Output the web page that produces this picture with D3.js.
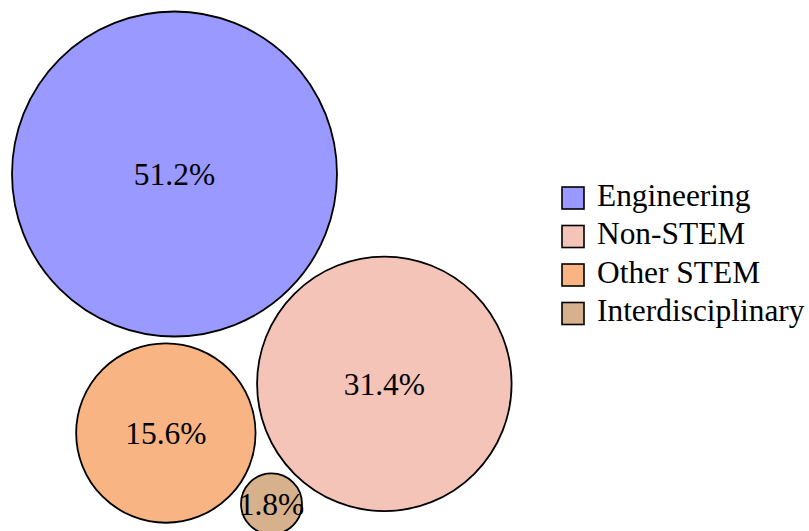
<!DOCTYPE html>
<html>
<head>
<meta charset="utf-8">
<script src="https://cdn.jsdelivr.net/npm/d3@7"></script>
<style>
  body { margin: 0; background: #ffffff; }
  svg { display: block; }
</style>
</head>
<body>
<svg id="chart" width="809" height="531"></svg>
<script>
// data
const categories = ["Engineering", "Non-STEM", "Other STEM", "Interdisciplinary"];
const shares = [51.2, 31.4, 15.6, 1.8];
const colors = ["#9999ff", "#f4c4b9", "#f8b482", "#d7b18b"];
// order in which the circles are fed to the packer
const packOrder = [1, 2, 0, 3];

const svg = d3.select("#chart");
const fontFamily = "'Liberation Serif', 'Times New Roman', serif";

// area proportional to share
const r = d3.scaleSqrt().domain([0, d3.max(shares)]).range([0, 162.5]);
const pad = 3.5;

// pack circles as siblings (radius + padding)
const nodes = packOrder.map(i => ({ i: i, r: r(shares[i]) + pad }));
d3.packSiblings(nodes);

const byIdx = {};
nodes.forEach(n => byIdx[n.i] = n);
const eng = byIdx[0], ns = byIdx[1], os = byIdx[2];

// mirror so "Other STEM" sits below-left of the Engineering -> Non-STEM axis
const cross = (ns.x - eng.x) * (os.y - eng.y) - (ns.y - eng.y) * (os.x - eng.x);
if (cross < 0) nodes.forEach(n => n.y = -n.y);

// rotate so that Engineering -> Non-STEM points down-right at 45 degrees
const rot = Math.PI / 4 - Math.atan2(ns.y - eng.y, ns.x - eng.x);
nodes.forEach(n => {
    const x = n.x * Math.cos(rot) - n.y * Math.sin(rot);
    const y = n.x * Math.sin(rot) + n.y * Math.cos(rot);
    n.x = x; n.y = y;
});

// shift into view
const marginLeft = 12, marginTop = 11.5;
const dx = marginLeft - d3.min(nodes, n => n.x - (n.r - pad));
const dy = marginTop - d3.min(nodes, n => n.y - (n.r - pad));

const g = svg.append("g").attr("transform", "translate(" + dx + "," + dy + ")");

// draw in category order
const drawn = categories.map((c, i) => byIdx[i]);

g.selectAll("circle")
    .data(drawn)
    .enter()
    .append("circle")
    .attr("cx", d => d.x)
    .attr("cy", d => d.y)
    .attr("r", d => d.r - pad)
    .attr("fill", d => colors[d.i])
    .attr("stroke", "#000")
    .attr("stroke-width", 1.8);

g.selectAll("text")
    .data(drawn)
    .enter()
    .append("text")
    .attr("x", d => d.x)
    .attr("y", d => d.y)
    .attr("dy", "0.34em")
    .attr("text-anchor", "middle")
    .attr("font-family", fontFamily)
    .attr("font-size", 31.5)
    .attr("fill", "#000")
    .text(d => d3.format(".1f")(shares[d.i]) + "%");

// legend
const legendY = d3.scalePoint().domain(categories).range([198, 313.5]);
const legend = svg.append("g");

const rows = legend.selectAll("g")
    .data(categories)
    .enter()
    .append("g")
    .attr("transform", d => "translate(562," + legendY(d) + ")");

rows.append("rect")
    .attr("x", 0)
    .attr("y", -11)
    .attr("width", 22)
    .attr("height", 22)
    .attr("fill", (d, i) => colors[i])
    .attr("stroke", "#000")
    .attr("stroke-width", 1.6);

rows.append("text")
    .attr("x", 35)
    .attr("y", 7.5)
    .attr("font-family", fontFamily)
    .attr("font-size", 31.4)
    .attr("fill", "#000")
    .text(d => d);
</script>
</body>
</html>
